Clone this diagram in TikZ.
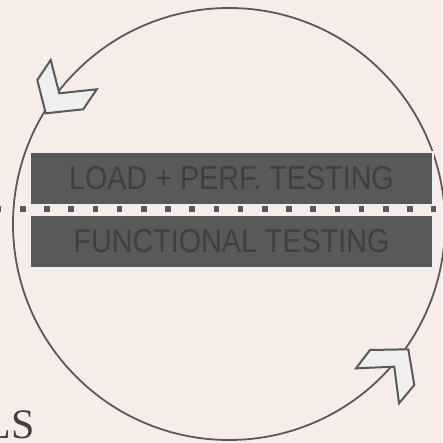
\documentclass[tikz,border=0pt]{standalone}
\usepackage{fontspec}
\setmainfont{Liberation Serif}
\newfontfamily\boxfont[FakeStretch=0.87]{Liberation Sans}
\usetikzlibrary{positioning,calc}
\definecolor{paper}{HTML}{F8ECE8}
\definecolor{slate}{HTML}{595959}
\definecolor{ink}{HTML}{404040}
\definecolor{chalk}{HTML}{EFEFEF}
\tikzset{
  testbox/.style={shape=rectangle,fill=slate,draw=chalk,line width=1.2pt,
    minimum width=403pt,minimum height=53pt,inner sep=0pt,
    text=ink,font=\boxfont\fontsize{33}{33}\selectfont},
  chevron/.style={fill=chalk,draw=slate,line width=2pt,line join=miter},
  loopline/.style={draw=slate,line width=1.8pt},
  splitline/.style={draw=slate,line width=5.5pt,dash pattern=on 5.5pt off 18.7pt}
}
\begin{document}
\begin{tikzpicture}[x=1pt,y=-1pt]
    \fill[paper] (0,0) rectangle (442,443);
    \useasboundingbox (0,0) rectangle (442,443);
    \draw[loopline] (229,224) circle[radius=216];
    \node (perf) [testbox] at (231.5,178.5) {LOAD + PERF. TESTING};
    \node (func) [testbox] at (231.5,241.5) {FUNCTIONAL TESTING};
    \coordinate (cut) at (-4.2,209);
    \coordinate (cutend) at (436,209);
    \draw[splitline] (cut) -- (cutend);
    \draw[chevron] (50.7,60) -- (37.3,80) -- (45.7,113.3) -- (83.3,109.3)
      -- (96.7,89.3) -- (59.3,93.3) -- cycle;
    \draw[chevron] (370,350) -- (408.3,349.3) -- (414.3,385) -- (399,403.3)
      -- (394.3,366.7) -- (356,368.3) -- cycle;
    \node (tail) [anchor=base west,inner sep=0pt,text=ink,
      font=\fontsize{42}{42}\selectfont] at (-14.7,438) {LS};
\end{tikzpicture}
\end{document}
